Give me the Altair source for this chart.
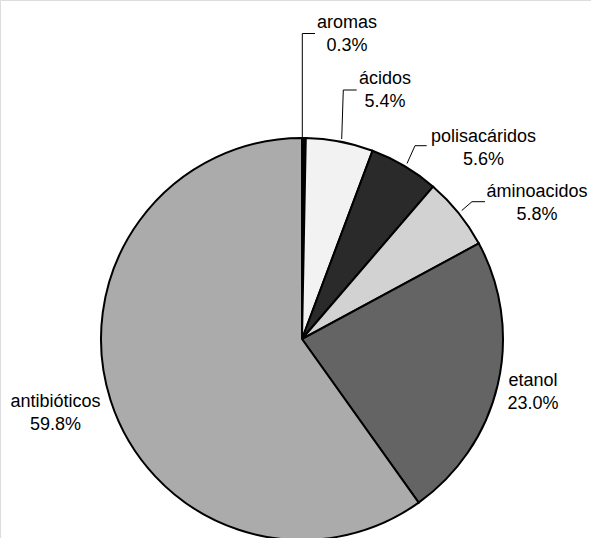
import altair as alt
import pandas as pd

# ---- data ----
categories = ["aromas", "ácidos", "polisacáridos", "áminoacidos", "etanol", "antibióticos"]
values = [0.3, 5.4, 5.6, 5.8, 23.0, 59.8]
pct_labels = ["0.3%", "5.4%", "5.6%", "5.8%", "23.0%", "59.8%"]

# ---- styles / layout ----
fills = ["#000000", "#f2f2f2", "#2a2a2a", "#d2d2d2", "#646464", "#ababab"]
CX, CY, R = 302, 339, 201
label_x = [347, 385, 483.5, 537, 533, 55.5]
label_y = [28, 83.5, 141.7, 196.7, 386, 406.7]
leader_group = ["aromas"] * 3 + ["ácidos"] * 3 + ["polisacáridos"] * 3 + ["áminoacidos"] * 3
leader_order = [0, 1, 2] * 4
leader_x = [302.3, 302.3, 315, 341.7, 343.3, 356.7, 407, 415, 426.7, 461.7, 472, 485]
leader_y = [139, 33.5, 33.5, 139, 90, 90, 163.5, 145.7, 145.7, 210.5, 201.7, 201.7]

df = pd.DataFrame({
    "cat": categories,
    "value": values,
    "idx": list(range(len(categories))),
    "label": [[c, p] for c, p in zip(categories, pct_labels)],
    "lx": label_x,
    "ly": label_y,
})
lines_df = pd.DataFrame({"g": leader_group, "o": leader_order, "x": leader_x, "y": leader_y})

pie = alt.Chart(df).mark_arc(
    outerRadius=R, stroke="black", strokeWidth=2, strokeJoin="miter"
).encode(
    theta=alt.Theta("value:Q", stack=True),
    order=alt.Order("idx:Q"),
    color=alt.Color("cat:N", scale=alt.Scale(domain=categories, range=fills), legend=None),
    x=alt.value(CX),
    y=alt.value(CY),
)

text = alt.Chart(df).mark_text(
    font="Liberation Sans", fontSize=18, color="black", align="center",
    baseline="alphabetic", lineHeight=23,
).encode(
    x=alt.X("lx:Q", scale=None),
    y=alt.Y("ly:Q", scale=None),
    text="label",
)

leaders = alt.Chart(lines_df).mark_line(color="black", strokeWidth=1).encode(
    x=alt.X("x:Q", scale=None),
    y=alt.Y("y:Q", scale=None),
    detail="g:N",
    order="o:Q",
)

chart = alt.layer(pie, leaders, text).properties(
    width=591, height=538,
    autosize=alt.AutoSizeParams(type="none"),
    padding=0,
).configure_view(stroke=None).configure(background="white")

chart.save("out.html", embed_options={"renderer": "svg", "actions": False})
